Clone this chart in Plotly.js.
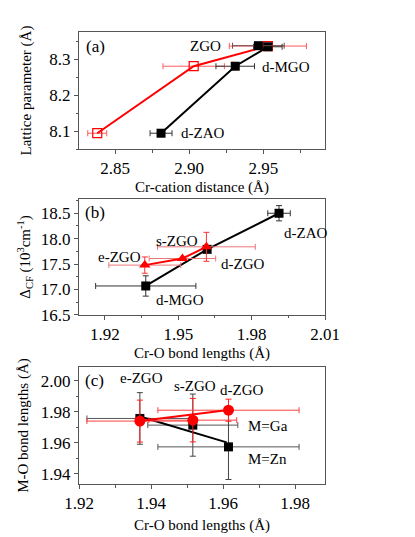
<!DOCTYPE html>
<html>
<head>
<meta charset="utf-8">
<script src="https://cdn.plot.ly/plotly-3.0.1.min.js"></script>
<style>
html, body { margin: 0; padding: 0; background: #fff; }
#chart { width: 415px; height: 537px; }
</style>
</head>
<body>
<div id="chart"></div>
<script>
// panel (a): lattice parameter vs Cr-cation distance
var aBlackX = [2.881, 2.931, 2.953];
var aBlackY = [8.094, 8.280, 8.334];
var aBlackErr = [0.0074, 0.013, 0.0096];
var aRedX = [2.838, 2.903, 2.953];
var aRedY = [8.094, 8.280, 8.336];
var aRedErr = [0.0064, 0.0207, 0.026];
var aZgoX = [2.9466];
var aZgoY = [8.337];
var aZgoErr = [0.0174];

// panel (b): crystal field vs Cr-O bond length
var bBlackX = [1.9367, 1.9618, 1.9912];
var bBlackY = [17.07, 17.79, 18.50];
var bBlackErrX = [0.0205, 0, 0.0046];
var bBlackErrY = [0.20, 0, 0.15];
var bRedX = [1.9363, 1.9517, 1.9615];
var bRedY = [17.48, 17.61, 17.84];
var bRedErrX = [0.0147, 0.0136, 0.020];
var bRedErrY = [0.16, 0, 0.285];

// panel (c): M-O vs Cr-O bond lengths
var cBlackX = [1.9369, 1.9516, 1.9615];
var cBlackY = [1.9757, 1.9714, 1.9574];
var cBlackErrX = [0.0147, 0.0125, 0.0196];
var cBlackErrY = [0.0166, 0.020, 0.021];
var cRedX = [1.9369, 1.9516, 1.9615];
var cRedY = [1.9740, 1.9746, 1.9810];
var cRedErrX = [0.0147, 0.0122, 0.0196];
var cRedErrY = [0.0135, 0.014, 0.0071];
// linear fits (end points)
var cBlackFitX = [1.9369, 1.9610];
var cBlackFitY = [1.9769, 1.9603];
var cRedFitX = [1.9369, 1.9615];
var cRedFitY = [1.9740, 1.9811];

var FONT = '"Liberation Serif", "DejaVu Serif", serif';
var RED = '#ff0000';

function errBar(arr, color) {
    return {type: 'data', array: arr, visible: true, color: color, thickness: 1, width: 3};
}

var data = [
    {x: aRedX, y: aRedY, xaxis: 'x', yaxis: 'y', mode: 'lines+markers',
     line: {color: RED, width: 2},
     marker: {symbol: 'square-open', size: 9, color: RED, line: {width: 1.2}},
     error_x: errBar(aRedErr, '#ff5a5a')},
    {x: aBlackX, y: aBlackY, xaxis: 'x', yaxis: 'y', mode: 'lines+markers',
     line: {color: '#000', width: 2},
     marker: {symbol: 'square', size: 9, color: '#000'},
     error_x: errBar(aBlackErr, '#333')},
    {x: aZgoX, y: aZgoY, xaxis: 'x', yaxis: 'y', mode: 'markers',
     marker: {symbol: 'square', size: 9, color: '#000'},
     error_x: errBar(aZgoErr, '#6b4a4a')},

    {x: bBlackX, y: bBlackY, xaxis: 'x2', yaxis: 'y2', mode: 'lines+markers',
     line: {color: '#000', width: 2},
     marker: {symbol: 'square', size: 9, color: '#000'},
     error_x: errBar(bBlackErrX, '#333'), error_y: errBar(bBlackErrY, '#333')},
    {x: bRedX, y: bRedY, xaxis: 'x2', yaxis: 'y2', mode: 'lines+markers',
     line: {color: RED, width: 2},
     marker: {symbol: 'triangle-up', size: 10, color: RED},
     error_x: errBar(bRedErrX, '#e87878'), error_y: errBar(bRedErrY, '#ff3030')},

    {x: cBlackX, y: cBlackY, xaxis: 'x3', yaxis: 'y3', mode: 'markers',
     marker: {symbol: 'square', size: 9, color: '#000'},
     error_x: errBar(cBlackErrX, '#555'), error_y: errBar(cBlackErrY, '#444')},
    {x: cBlackFitX, y: cBlackFitY, xaxis: 'x3', yaxis: 'y3', mode: 'lines',
     line: {color: '#000', width: 2}},
    {x: cRedX, y: cRedY, xaxis: 'x3', yaxis: 'y3', mode: 'markers',
     marker: {symbol: 'circle', size: 11, color: RED},
     error_x: errBar(cRedErrX, '#ff4040'), error_y: errBar(cRedErrY, '#ff2020')},
    {x: cRedFitX, y: cRedFitY, xaxis: 'x3', yaxis: 'y3', mode: 'lines',
     line: {color: RED, width: 2}}
];

function axis(opts) {
    var base = {
        showline: true, linecolor: '#555', linewidth: 1, mirror: true,
        ticks: 'outside', ticklen: 4, tickwidth: 1, tickcolor: '#555',
        showgrid: false, zeroline: false,
        tickfont: {family: FONT, size: 17, color: '#000'},
        title: {font: {family: FONT, size: 15, color: '#000'}}
    };
    for (var k in opts) {
        if (k === 'title') base.title.text = opts[k];
        else if (k === 'standoff') base.title.standoff = opts[k];
        else base[k] = opts[k];
    }
    return base;
}

function minor(d) {
    return {dtick: d, ticks: 'outside', ticklen: 2.5, tickcolor: '#555'};
}

function label(text, x, y, ax, anchor, size) {
    return {text: text, x: x, y: y, xref: ax[0], yref: ax[1], showarrow: false,
            xanchor: anchor || 'left', yanchor: 'middle',
            font: {family: FONT, size: size || 15, color: '#000'}};
}

var A = ['x', 'y'], B = ['x2', 'y2'], C = ['x3', 'y3'];

var layout = {
    width: 415, height: 537,
    margin: {l: 79, r: 90, t: 32, b: 53},
    paper_bgcolor: '#fff', plot_bgcolor: '#fff',
    showlegend: false,
    font: {family: FONT},
    xaxis: axis({anchor: 'y', range: [2.8257, 2.9915], dtick: 0.05, tick0: 2.85, tickformat: '.2f',
                 minor: minor(0.025), title: 'Cr-cation distance (Å)', standoff: 4}),
    yaxis: axis({anchor: 'x', domain: [0.741, 1], range: [8.05, 8.375], dtick: 0.1, tick0: 8.1, tickformat: '.1f',
                 minor: minor(0.05), title: 'Lattice parameter (Å)', standoff: 14}),
    xaxis2: axis({anchor: 'y2', range: [1.9094, 2.01], dtick: 0.03, tick0: 1.92, tickformat: '.2f',
                  minor: minor(0.015), title: 'Cr-O bond lengths (Å)', standoff: 4}),
    yaxis2: axis({anchor: 'x2', domain: [0.374, 0.6305], range: [16.5, 18.78], dtick: 0.5, tick0: 16.5, tickformat: '.1f',
                  minor: minor(0.25), title: 'Δ<sub>CF</sub> (10<sup>3</sup>cm<sup>-1</sup>)', standoff: 6}),
    xaxis3: axis({anchor: 'y3', range: [1.92, 1.9883], dtick: 0.02, tick0: 1.92, tickformat: '.2f',
                  minor: minor(0.01), title: 'Cr-O bond lengths (Å)', standoff: 7}),
    yaxis3: axis({anchor: 'x3', domain: [0, 0.2588], range: [1.9335, 2.0088], dtick: 0.02, tick0: 1.94, tickformat: '.2f',
                  minor: minor(0.01), title: 'M-O bond lengths (Å)', standoff: 8}),
    annotations: [
        label('(a)', 2.8368, 8.334, A, 'center', 17),
        label('ZGO', 2.9228, 8.336, A, 'right'),
        label('d-MGO', 2.948, 8.278, A),
        label('d-ZAO', 2.8932, 8.094, A),

        label('(b)', 1.9158, 18.514, B, 'center', 17),
        label('d-ZAO', 1.9925, 18.114, B),
        label('s-ZGO', 1.9401, 17.957, B),
        label('e-ZGO', 1.9164, 17.648, B),
        label('d-ZGO', 1.9667, 17.504, B),
        label('d-MGO', 1.9401, 16.795, B),

        label('(c)', 1.9242, 2.0, C, 'center', 17),
        label('e-ZGO', 1.9308, 2.0017, C),
        label('s-ZGO', 1.9458, 1.9966, C),
        label('d-ZGO', 1.9586, 1.994, C),
        label('M=Ga', 1.9664, 1.9708, C),
        label('M=Zn', 1.9664, 1.9495, C)
    ]
};

Plotly.newPlot('chart', data, layout, {displayModeBar: false, staticPlot: true});
</script>
</body>
</html>
